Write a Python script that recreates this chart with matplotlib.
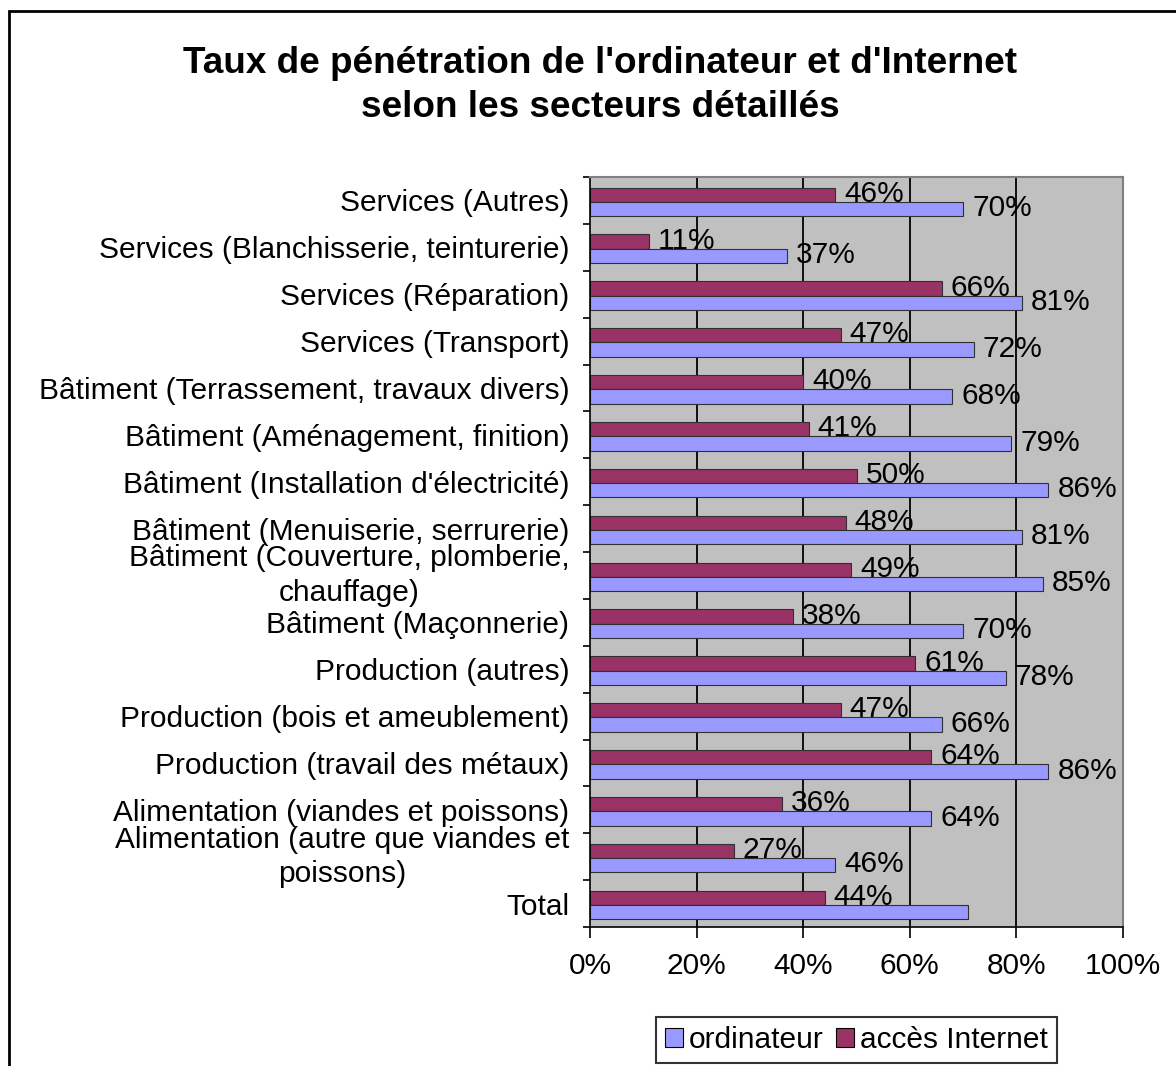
import matplotlib
matplotlib.use("Agg")
import matplotlib.pyplot as plt
from matplotlib.patches import Rectangle, Patch
import numpy as np

plt.rcParams['font.family'] = ['Liberation Sans', 'DejaVu Sans']

categories = [
    "Services (Autres)",
    "Services (Blanchisserie, teinturerie)",
    "Services (Réparation)",
    "Services (Transport)",
    "Bâtiment (Terrassement, travaux divers)",
    "Bâtiment (Aménagement, finition)",
    "Bâtiment (Installation d'électricité)",
    "Bâtiment (Menuiserie, serrurerie)",
    "Bâtiment (Couverture, plomberie,\nchauffage)",
    "Bâtiment (Maçonnerie)",
    "Production (autres)",
    "Production (bois et ameublement)",
    "Production (travail des métaux)",
    "Alimentation (viandes et poissons)",
    "Alimentation (autre que viandes et\npoissons)",
    "Total",
]
ordinateur = [70, 37, 81, 72, 68, 79, 86, 81, 85, 70, 78, 66, 86, 64, 46, 71]
internet = [46, 11, 66, 47, 40, 41, 50, 48, 49, 38, 61, 47, 64, 36, 27, 44]
ordinateur_labels = ["70%", "37%", "81%", "72%", "68%", "79%", "86%", "81%", "85%",
                     "70%", "78%", "66%", "86%", "64%", "46%", ""]
internet_labels = ["46%", "11%", "66%", "47%", "40%", "41%", "50%", "48%", "49%",
                   "38%", "61%", "47%", "64%", "36%", "27%", "44%"]
xticks = [0, 20, 40, 60, 80, 100]
xtick_labels = ["0%", "20%", "40%", "60%", "80%", "100%"]
series_names = ["ordinateur", "accès Internet"]
title_lines = ["Taux de pénétration de l'ordinateur et d'Internet",
               "selon les secteurs détaillés"]

c_ord = "#9999FF"
c_int = "#993366"
FS = 21.5

W, H = 1176, 1066
fig = plt.figure(figsize=(W / 100, H / 100), dpi=100)
fig.patch.set_facecolor("white")

# outer frame
fig.add_artist(Rectangle((8.5 / W, -0.05), 1.2, 1 - 11 / H + 0.05, transform=fig.transFigure,
                         fill=False, edgecolor="black", linewidth=2.0))

left, right, top, bottom = 590, 1123, 177, 927
ax = fig.add_axes([left / W, 1 - bottom / H, (right - left) / W, (bottom - top) / H])
ax.set_facecolor("#C0C0C0")

n = len(categories)
y = np.arange(n) + 0.03
h = 0.306
ax.barh(y - h / 2, internet, height=h, color=c_int, edgecolor="#303030", linewidth=0.8, zorder=2)
ax.barh(y + h / 2, ordinateur, height=h, color=c_ord, edgecolor="#303030", linewidth=0.8, zorder=2)

for i in range(n):
    if internet_labels[i]:
        ax.annotate(internet_labels[i], (internet[i], y[i]), xytext=(6.5, 0),
                    textcoords="offset points", va="baseline", ha="left", fontsize=FS, zorder=1)
    if ordinateur_labels[i]:
        ax.annotate(ordinateur_labels[i], (ordinateur[i], y[i] + h), xytext=(6.5, 0),
                    textcoords="offset points", va="baseline", ha="left", fontsize=FS, zorder=1)

ax.set_xlim(0, 100)
ax.set_ylim(n - 0.5, -0.5)
ax.set_xticks(xticks)
ax.set_xticklabels(xtick_labels, fontsize=FS)
ax.tick_params(axis="x", length=8, width=1.2, pad=10, direction="out")
for xv in xticks[1:-1]:
    ax.axvline(xv, color="black", linewidth=1.3, zorder=1.5)

ax.set_yticks(np.arange(-0.5, n, 1.0))
ax.set_yticklabels([])
ax.tick_params(axis="y", which="major", length=5, width=1.2, direction="out")
ax.set_yticks(np.arange(n), minor=True)
ax.set_yticklabels(categories, minor=True, fontsize=FS, multialignment="center")
ax.tick_params(axis="y", which="minor", length=0, pad=15)
for lbl in ax.get_yticklabels(minor=True):
    if "\n" in lbl.get_text():
        lbl.set_linespacing(1.28)
        lbl.set_verticalalignment("center")

for s in ["top", "right"]:
    ax.spines[s].set_color("#808080")
    ax.spines[s].set_linewidth(1.5)
for s in ["left", "bottom"]:
    ax.spines[s].set_color("black")
    ax.spines[s].set_linewidth(1.2)

fig.text(600 / W, 1 - 73 / H, title_lines[0], ha="center", va="baseline",
         fontsize=26.6, fontweight="bold")
fig.text(600 / W, 1 - 117 / H, title_lines[1], ha="center", va="baseline",
         fontsize=26.6, fontweight="bold")

handles = [Patch(facecolor=c_ord, edgecolor="black", linewidth=0.8),
           Patch(facecolor=c_int, edgecolor="black", linewidth=0.8)]
leg = fig.legend(handles, series_names, loc="center", bbox_to_anchor=(856.5 / W, 1 - 1040 / H),
                 ncol=2, fontsize=FS, frameon=True, fancybox=False, handlelength=0.6,
                 handleheight=0.6, handletextpad=0.2, columnspacing=0.4, borderpad=0.3,
                 borderaxespad=0)
leg.get_frame().set_edgecolor("black")
leg.get_frame().set_linewidth(1.5)

fig.savefig("out.png", dpi=100)
